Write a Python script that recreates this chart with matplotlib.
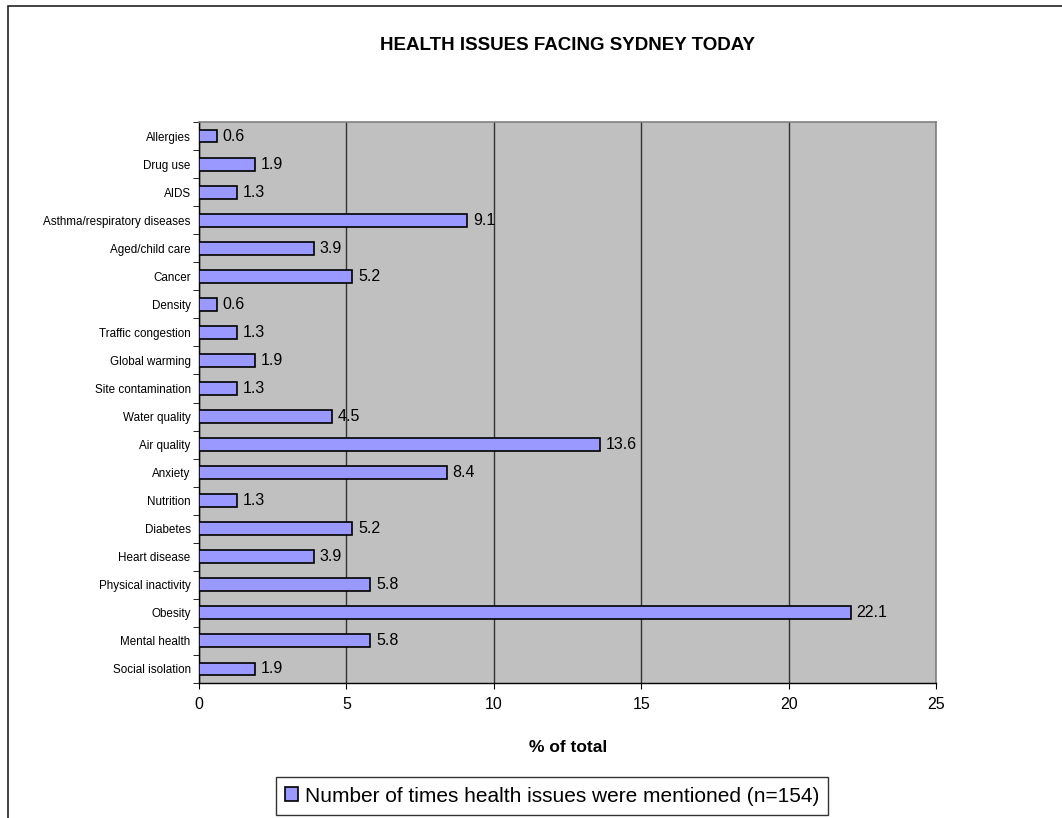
import matplotlib
matplotlib.use("Agg")
import matplotlib.pyplot as plt
from matplotlib.patches import Rectangle

plt.rcParams['font.family'] = ['Liberation Sans', 'DejaVu Sans']

# categories listed bottom to top
issues = ["Social isolation", "Mental health", "Obesity", "Physical inactivity",
          "Heart disease", "Diabetes", "Nutrition", "Anxiety", "Air quality",
          "Water quality", "Site contamination", "Global warming",
          "Traffic congestion", "Density", "Cancer", "Aged/child care",
          "Asthma/respiratory diseases", "AIDS", "Drug use", "Allergies"]
pct = [1.9, 5.8, 22.1, 5.8, 3.9, 5.2, 1.3, 8.4, 13.6, 4.5, 1.3, 1.9,
       1.3, 0.6, 5.2, 3.9, 9.1, 1.3, 1.9, 0.6]
x_ticks = [0, 5, 10, 15, 20, 25]
series_name = "Number of times health issues were mentioned (n=154)"

W, H = 1062, 818
fig = plt.figure(figsize=(W / 100, H / 100), dpi=100)

# outer chart frame (runs off the right and bottom edges)
fig.patches.append(Rectangle((8 / W, -0.05), 1.1, 1 - 6 / H + 0.05,
                             transform=fig.transFigure, fill=False,
                             edgecolor='#222222', linewidth=1.2, clip_on=False))

ax = fig.add_axes([199 / W, 1 - 683 / H, (936 - 199) / W, (683 - 122) / H])
ax.set_facecolor('#C0C0C0')
ax.set_axisbelow(True)

y = range(len(issues))
ax.barh(y, pct, height=0.46, color='#9999FF', edgecolor='black',
        linewidth=1.2, label=series_name, zorder=3)
for yi, v in zip(y, pct):
    ax.text(v + 0.2, yi, f"{v:.1f}", va='center', ha='left', fontsize=11.5, zorder=4)

ax.set_xlim(0, 25)
ax.set_ylim(-0.5, len(issues) - 0.5)
ax.set_xticks(x_ticks)
ax.set_xticklabels([str(t) for t in x_ticks], fontsize=11.5)
ax.set_yticks(list(y))
ax.set_yticklabels(issues, fontsize=8.4)
ax.tick_params(axis='y', length=0, pad=6)
ax.set_yticks([i - 0.5 for i in range(len(issues) + 1)], minor=True)
ax.tick_params(axis='y', which='minor', length=4, direction='out')
ax.tick_params(axis='x', length=4, direction='out', pad=6)
ax.grid(axis='x', color='#333333', linewidth=1.0, zorder=0)

for side in ('top', 'right'):
    ax.spines[side].set_color('#808080')
    ax.spines[side].set_linewidth(1.2)
for side in ('left', 'bottom'):
    ax.spines[side].set_color('black')
    ax.spines[side].set_linewidth(1.0)

fig.text(568 / W, 1 - 45 / H, "HEALTH ISSUES FACING SYDNEY TODAY",
         ha='center', va='center', fontsize=13.5, fontweight='bold')
fig.text(568 / W, 1 - 748 / H, "% of total", ha='center', va='center',
         fontsize=12.5, fontweight='bold')

leg = fig.legend(loc='center', bbox_to_anchor=(552 / W, 1 - 796 / H),
                 fontsize=15, frameon=True, fancybox=False,
                 edgecolor='black', handlelength=0.65, handleheight=0.65,
                 handletextpad=0.3, borderpad=0.45, borderaxespad=0)
leg.get_frame().set_linewidth(1.0)

fig.savefig("out.png", dpi=100)
